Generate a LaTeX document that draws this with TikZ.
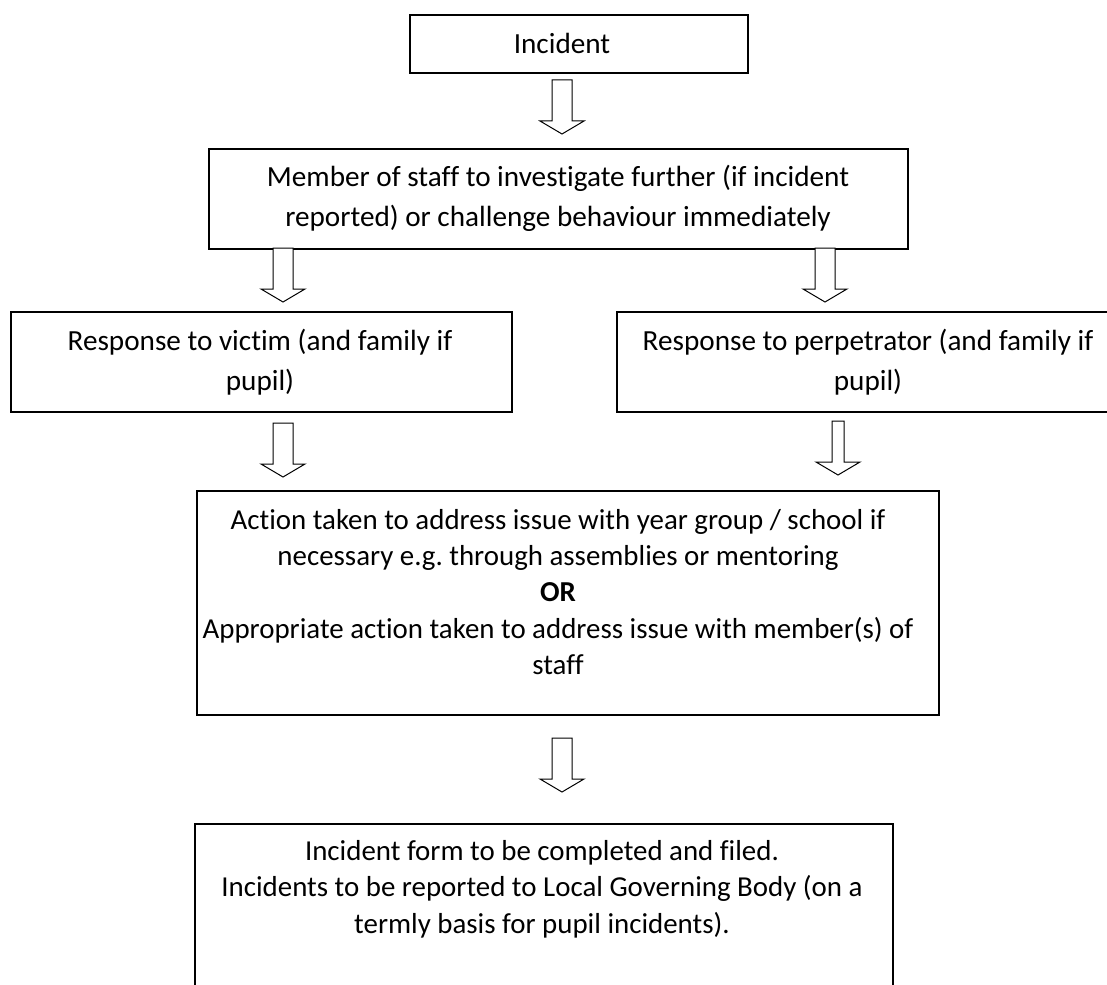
\documentclass[tikz,border=0pt]{standalone}
\usepackage{fontspec}
\setmainfont{Carlito}[Ligatures=NoCommon]
\usetikzlibrary{positioning}

\tikzset{
  flowbox/.style={draw, line width=0.9pt, rectangle, inner sep=0pt, anchor=north west},
  flowtext/.style={align=center, inner sep=0pt, font=\fontsize{14.6}{20}\selectfont},
  tighttext/.style={align=center, inner sep=0pt, font=\fontsize{14.45}{18.2}\selectfont},
  arrowshaft/.store in=\shafthalf, arrowshaft=10,
  downarrow/.pic={
    \draw[line width=0.5pt, fill=white] (-\shafthalf,0) -- (-\shafthalf,41) -- (-22,41) -- (0,54)
      -- (22,41) -- (\shafthalf,41) -- (\shafthalf,0) -- cycle;
  }
}

\begin{document}
\begin{tikzpicture}[x=0.5pt, y=-0.5pt]
  \useasboundingbox (0,0) rectangle (1107,984);

  % Boxes
  \node[flowbox, minimum width=169pt, minimum height=29pt] (inc) at (409,14) {};
  \node[flowbox, minimum width=349.5pt, minimum height=50pt] (memb) at (208,148) {};
  \node[flowbox, minimum width=250.5pt, minimum height=50pt] (vict) at (10,311) {};
  \node[flowbox, minimum width=260pt, minimum height=50pt] (perp) at (616,311) {};
  \node[flowbox, minimum width=371pt, minimum height=112pt] (act) at (196,490) {};
  \node[flowbox, minimum width=349pt, minimum height=100pt] (fin) at (194,823) {};

  % Texts
  \node[flowtext] (inctext) at (562,43) {Incident};
  \node[flowtext] (membtext) at (558,198) {Member of staff to investigate further (if incident\\reported) or challenge behaviour immediately};
  \node[flowtext] (victtext) at (260,362) {Response to victim (and family if\\pupil)};
  \node[flowtext] (perptext) at (868,362) {Response to perpetrator (and family if\\pupil)};
  \node[tighttext] (acttext) at (558,592) {Action taken to address issue with year group / school if\\necessary e.g.\ through assemblies or mentoring\\\textbf{OR}\\Appropriate action taken to address issue with member(s) of\\staff};
  \node[tighttext] (fintext) at (542,889) {Incident form to be completed and filed.\\Incidents to be reported to Local Governing Body (on a\\termly basis for pupil incidents).};

  % Arrows
  \pic at (562,80) {downarrow};
  \pic at (283,248) {downarrow};
  \pic at (825,248) {downarrow};
  \pic at (283,423) {downarrow};
  \pic[arrowshaft=6] at (838,421) {downarrow};
  \pic at (562,738) {downarrow};
\end{tikzpicture}
\end{document}
